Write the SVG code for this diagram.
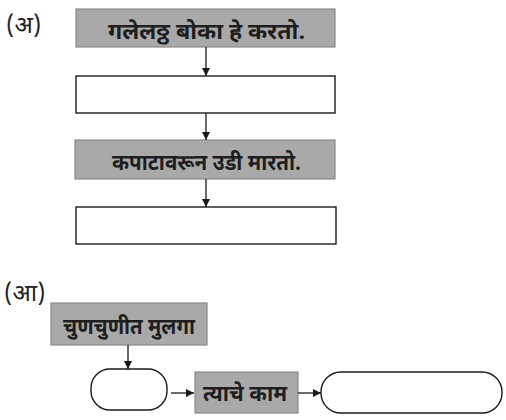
<svg xmlns="http://www.w3.org/2000/svg" width="506" height="420" viewBox="0 0 506 420">
<defs>
<style>
.bg{fill:#ffffff}
.gray rect{fill:#a9a9a9;stroke:#8a8a8a;stroke-width:1.2}
.blank rect{fill:#ffffff;stroke:#1a1a1a;stroke-width:1.4}
.lbl{font-family:"Noto Sans Devanagari","Noto Sans","Liberation Sans",sans-serif;font-weight:bold;fill:#1e1e1e;text-anchor:middle;font-size:22px}
.tag{font-family:"Noto Sans Devanagari","Noto Sans","Liberation Sans",sans-serif;fill:#222;font-size:24px}
.conn line{stroke:#1a1a1a;stroke-width:1.3;fill:none}
</style>
<marker id="ah" viewBox="0 0 10 10" refX="10" refY="5" markerWidth="8" markerHeight="8" markerUnits="userSpaceOnUse" orient="auto">
<path d="M0,0 L10,5 L0,10 Z" fill="#1a1a1a"/>
</marker>
</defs>
<rect class="bg" x="0" y="0" width="506" height="420"/>
<text class="tag" x="6" y="33">(अ)</text>
<text class="tag" x="4" y="301">(आ)</text>

<g id="n1" class="gray"><rect x="76" y="9" width="259" height="38"/><text class="lbl" x="206.5" y="39" textLength="197" lengthAdjust="spacingAndGlyphs">गलेलठ्ठ बोका हे करतो.</text></g>
<g id="n2" class="blank"><rect x="76" y="76" width="259" height="37"/></g>
<g id="n3" class="gray"><rect x="75" y="140" width="260" height="39"/><text class="lbl" x="206.5" y="170" textLength="189" lengthAdjust="spacingAndGlyphs">कपाटावरून उडी मारतो.</text></g>
<g id="n4" class="blank"><rect x="76" y="207" width="260" height="37"/></g>

<g id="n5" class="gray"><rect x="51" y="303" width="156" height="42"/><text class="lbl" x="129" y="334" textLength="132" lengthAdjust="spacingAndGlyphs">चुणचुणीत मुलगा</text></g>
<g id="n6" class="blank"><rect x="91" y="369" width="76" height="41" rx="19" ry="19"/></g>
<g id="n7" class="gray"><rect x="195" y="372" width="103" height="41"/><text class="lbl" x="245" y="401" textLength="84" lengthAdjust="spacingAndGlyphs">त्याचे काम</text></g>
<g id="n8" class="blank"><rect x="321" y="372" width="181" height="41" rx="20" ry="20"/></g>

<g id="connectors" class="conn">
<line x1="206" y1="47" x2="206" y2="76" marker-end="url(#ah)"/>
<line x1="206" y1="113" x2="206" y2="140" marker-end="url(#ah)"/>
<line x1="206" y1="179" x2="206" y2="207" marker-end="url(#ah)"/>
<line x1="128" y1="345" x2="128" y2="369" marker-end="url(#ah)"/>
<line x1="171" y1="393" x2="194" y2="393" marker-end="url(#ah)"/>
<line x1="298" y1="393" x2="321" y2="393" marker-end="url(#ah)"/>
</g>
</svg>
